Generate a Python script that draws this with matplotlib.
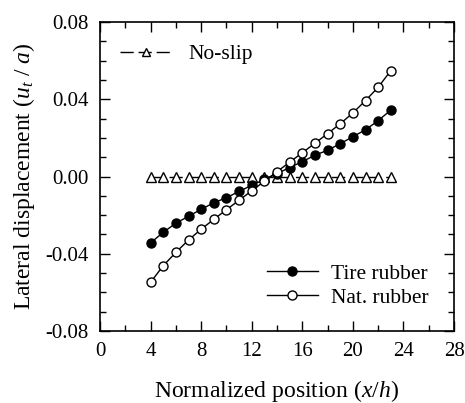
import matplotlib
matplotlib.use("Agg")
import matplotlib.pyplot as plt
from matplotlib.ticker import MultipleLocator
from matplotlib.lines import Line2D

plt.rcParams['font.family'] = ['Liberation Serif', 'DejaVu Serif']
plt.rcParams['mathtext.fontset'] = 'custom'
plt.rcParams['mathtext.rm'] = 'Liberation Serif'
plt.rcParams['mathtext.it'] = 'Liberation Serif:italic'

x = list(range(4, 24))
tire = [-0.0344, -0.0289, -0.0242, -0.0206, -0.0170, -0.0136, -0.0110, -0.0077, -0.0046, -0.0015,
        0.0015, 0.0046, 0.0077, 0.0110, 0.0136, 0.0170, 0.0206, 0.0242, 0.0289, 0.0344]
nat = [-0.0548, -0.0462, -0.0393, -0.0329, -0.0273, -0.0222, -0.0172, -0.0123, -0.0074, -0.0025,
       0.0025, 0.0074, 0.0123, 0.0172, 0.0222, 0.0273, 0.0329, 0.0393, 0.0462, 0.0548]
noslip = [0.0] * 20

DASH = (0, (9.5, 3.5))

fig = plt.figure(figsize=(4.65, 4.03), dpi=100)
ax = fig.add_axes([100/465, 1-331/403, 354/465, 309/403])

ax.plot(x, noslip, linestyle=DASH, color='black', lw=1.0, marker='^', ms=6.5,
        mfc='white', mec='black', mew=1.0)
ax.plot(x, tire, '-', color='black', lw=1.0, marker='o', ms=6.5, mfc='black', mec='black', mew=1.0)
ax.plot(x, nat, '-', color='black', lw=1.0, marker='o', ms=6.5, mfc='white', mec='black', mew=1.0)

ax.set_xlim(0, 28)
ax.set_ylim(-0.08, 0.08)
ax.xaxis.set_major_locator(MultipleLocator(4))
ax.xaxis.set_minor_locator(MultipleLocator(2))
ax.yaxis.set_major_locator(MultipleLocator(0.04))
ax.yaxis.set_minor_locator(MultipleLocator(0.01))
ax.yaxis.set_major_formatter(plt.FuncFormatter(lambda v, p: f"{v:.2f}"))
ax.tick_params(which='both', direction='in', top=True, right=True, labelsize=15, width=1.0)
ax.tick_params(which='major', length=7, pad=8)
ax.tick_params(which='minor', length=4)
for s in ax.spines.values():
    s.set_linewidth(1.2)

ax.set_xlabel(r"Normalized position ($x$/$h$)", fontsize=17, labelpad=12)
ax.set_ylabel(r"Lateral displacement ($u_t$ / $a$)", fontsize=17, labelpad=6)

h1 = Line2D([], [], linestyle=DASH, color='black', lw=1.0, marker='^', ms=6,
            mfc='white', mec='black')
leg1 = ax.legend([h1], ['No-slip'], loc='center left', frameon=False, fontsize=15.5,
                 handlelength=2.4, handletextpad=0.8, borderpad=0,
                 bbox_to_anchor=(0.0565, 0.896), borderaxespad=0)
ax.add_artist(leg1)
h2 = Line2D([], [], color='black', lw=1.0, marker='o', ms=6.5, mfc='black', mec='black')
h3 = Line2D([], [], color='black', lw=1.0, marker='o', ms=6.5, mfc='white', mec='black')
ax.legend([h2, h3], ['Tire rubber', 'Nat. rubber'], loc='center right', frameon=False,
          fontsize=15.5, handlelength=2.4, handletextpad=0.6, labelspacing=0.2, borderpad=0,
          bbox_to_anchor=(0.929, 0.1466), borderaxespad=0)

fig.savefig("out.png", dpi=100)
